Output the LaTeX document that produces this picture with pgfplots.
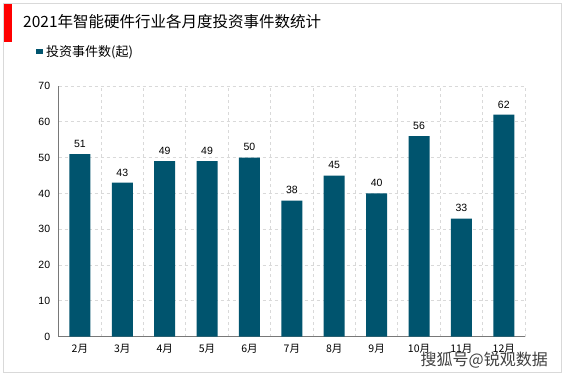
\documentclass[border=0pt]{standalone}
\usepackage{pgfplots}
\pgfplotsset{compat=1.18}
\usepackage{fontspec}
\setmainfont{Liberation Sans}
\newfontfamily\cjk{Noto Sans CJK SC}
\definecolor{barc}{RGB}{0,84,110}
\definecolor{gridc}{RGB}{217,217,217}
\definecolor{axc}{RGB}{120,120,120}
\begin{document}
\begin{tikzpicture}
\path[use as bounding box] (0pt,0pt) rectangle (567pt,378pt);
\fill[white] (0pt,0pt) rectangle (567pt,378pt);
\draw[gridc, line width=1pt] (3.5pt,6pt) rectangle (561.5pt,374pt);
\fill[red] (3.5pt,335.5pt) rectangle (12pt,374pt);
\node[anchor=west, inner sep=0pt, font=\cjk\fontsize{15.5}{18}\selectfont] at (23pt,356pt) {2021年智能硬件行业各月度投资事件数统计};
\fill[barc] (36pt,323.5pt) rectangle (42.5pt,329pt);
\node[anchor=west, inner sep=0pt, font=\cjk\fontsize{13}{15}\selectfont] at (46pt,326pt) {投资事件数(起)};
\begin{axis}[
  at={(58.7pt,41.3pt)}, anchor=south west,
  scale only axis, width=466.3pt, height=250.7pt,
  xmin=-0.5, xmax=10.5, ymin=0, ymax=70,
  ytick={0,10,...,70},
  xtick={0,...,10},
  xticklabels={2月,3月,4月,5月,6月,7月,8月,9月,10月,11月,12月},
  xticklabel style={font=\cjk\fontsize{10.5}{12}\selectfont, yshift=-4pt},
  yticklabel style={font=\fontsize{10.5}{12}\selectfont, xshift=-5pt},
  /pgf/number format/assume math mode=true,
  minor xtick={0.5,1.5,...,10.5},
  xminorgrids, ymajorgrids,
  grid style={dashed, gridc, line width=0.8pt},
  minor grid style={dashed, gridc, line width=0.8pt},
  axis x line*=bottom, axis y line*=left,
  axis line style={-, axc, line width=1.3pt},
  major tick length=0pt, minor tick length=0pt,
  ybar, bar width=21pt,
  nodes near coords,
  nodes near coords style={font=\fontsize{10.5}{12}\selectfont, black, yshift=3pt},
  clip=false,
]
\addplot[fill=barc, draw=none] coordinates {
(0,51) (1,43) (2,49) (3,49) (4,50) (5,38) (6,45) (7,40) (8,56) (9,33) (10,62)};
\end{axis}
\node[anchor=east, inner sep=0pt, font=\cjk\fontsize{16}{18}\selectfont, text=black!75] at (548pt,18pt) {搜狐号@锐观数据};
\end{tikzpicture}
\end{document}
